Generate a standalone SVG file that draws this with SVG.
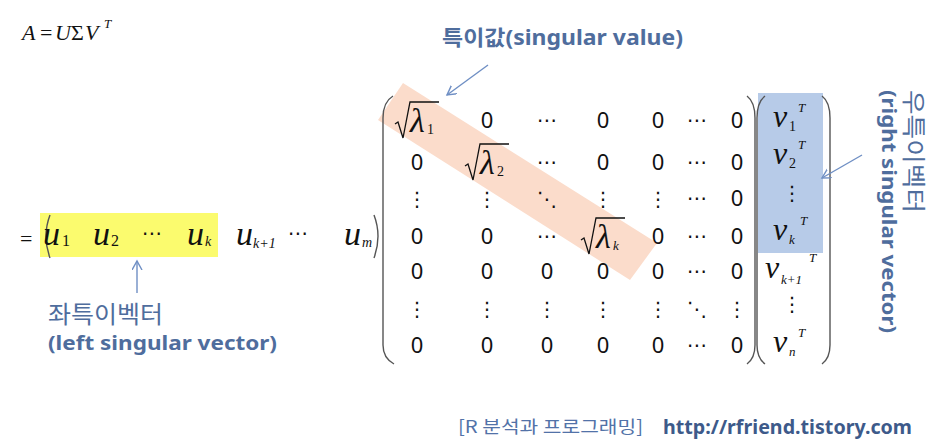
<svg xmlns="http://www.w3.org/2000/svg" width="939" height="448" viewBox="0 0 939 448">
<style>
.m{font-family:"Liberation Serif",serif;font-style:italic;fill:#111}
.n{font-family:"Liberation Serif",serif;fill:#111}
.z{font-family:"Noto Sans","Liberation Sans",sans-serif;font-size:22px;fill:#111;text-anchor:middle}
.d{font-family:"DejaVu Sans",sans-serif;font-size:20px;fill:#111;text-anchor:middle}
.br{fill:none;stroke:#555;stroke-width:1.4}
.rad{fill:none;stroke:#111;stroke-width:1.3}
.lbl{font-family:"Noto Sans","Noto Sans CJK KR",sans-serif;fill:#4f6d9d}
.kr{font-family:"Noto Sans CJK KR",sans-serif;fill:#4f6d9d}
.arr{fill:none;stroke:#6f8fc4;stroke-width:1.4}
</style>
<defs>
<marker id="ah" markerUnits="userSpaceOnUse" markerWidth="12" markerHeight="12" refX="9" refY="5" orient="auto">
<path d="M0,0 L9,5 L0,10" fill="none" stroke="#6f8fc4" stroke-width="1.4"/>
</marker>
<path id="radp" d="M0,22 L3,20 L8,36 L15,0 L44,0"/>
</defs>
<rect width="939" height="448" fill="#fff"/>

<g id="eq-top">
<text class="m" font-size="22" x="22" y="40">A</text>
<text class="n" font-size="22" x="40" y="40">=</text>
<text class="m" font-size="22" x="55" y="40">U</text>
<text class="n" font-size="22" x="71" y="40">Σ</text>
<text class="m" font-size="22" x="85" y="40">V</text>
<text class="m" font-size="13" x="104" y="28">T</text>
</g>

<g id="u-matrix">
<rect x="40" y="213" width="178" height="44" fill="#fbfb6e"/>
<text class="n" font-size="22" x="20" y="246">=</text>
<path class="br" d="M50,215 Q42,236 50,258"/>
<text class="m" font-size="34" x="43" y="245">u</text><text class="n" font-size="16" x="62" y="246">1</text>
<text class="m" font-size="34" x="93" y="245">u</text><text class="n" font-size="16" x="111" y="246">2</text>
<text class="d" font-size="18" x="152" y="240">⋯</text>
<text class="m" font-size="34" x="187" y="245">u</text><text class="m" font-size="14" x="205" y="246">k</text>
<text class="m" font-size="34" x="236" y="245">u</text><text class="m" font-size="14" x="253" y="248">k<tspan class="n">+1</tspan></text>
<text class="d" font-size="18" x="298" y="240">⋯</text>
<text class="m" font-size="34" x="344" y="245">u</text><text class="m" font-size="14" x="362" y="247">m</text>
<path class="br" d="M374,215 Q382,236 374,258"/>
</g>

<g id="sigma-matrix">
<polygon points="403,83 657,243 630,280 378,120" fill="#fbdccb"/>
<path class="br" d="M393,96 Q383,102 383,118 L383,345 Q383,358 394,364"/>
<path class="br" d="M747,96 Q755,102 755,118 L755,345 Q755,358 747,364"/>
<!-- row 1 -->
<use href="#radp" class="rad" transform="translate(395,102)"/>
<text class="m" font-size="34" x="410" y="132">λ</text><text class="n" font-size="14" x="427" y="134">1</text>
<text class="z" x="487" y="128">0</text>
<text class="d" x="547" y="127">⋯</text>
<text class="z" x="603" y="128">0</text>
<text class="z" x="658" y="128">0</text>
<text class="d" x="697" y="127">⋯</text>
<text class="z" x="737" y="128">0</text>
<!-- row 2 -->
<text class="z" x="417" y="170">0</text>
<use href="#radp" class="rad" transform="translate(465,144)"/>
<text class="m" font-size="34" x="480" y="174">λ</text><text class="n" font-size="14" x="497" y="176">2</text>
<text class="d" x="547" y="169">⋯</text>
<text class="z" x="603" y="170">0</text>
<text class="z" x="658" y="170">0</text>
<text class="d" x="697" y="169">⋯</text>
<text class="z" x="737" y="170">0</text>
<!-- row 3 -->
<text class="d" x="417" y="206">⋮</text>
<text class="d" x="487" y="206">⋮</text>
<text class="d" x="547" y="206">⋱</text>
<text class="d" x="603" y="206">⋮</text>
<text class="d" x="658" y="206">⋮</text>
<text class="d" x="697" y="205">⋯</text>
<text class="z" x="737" y="206">0</text>
<!-- row 4 -->
<text class="z" x="417" y="244">0</text>
<text class="z" x="487" y="244">0</text>
<text class="d" x="547" y="243">⋯</text>
<use href="#radp" class="rad" transform="translate(581,218)"/>
<text class="m" font-size="34" x="596" y="248">λ</text><text class="m" font-size="13" x="613" y="250">k</text>
<text class="z" x="658" y="244">0</text>
<text class="d" x="697" y="243">⋯</text>
<text class="z" x="737" y="244">0</text>
<!-- row 5 -->
<text class="z" x="417" y="279">0</text>
<text class="z" x="487" y="279">0</text>
<text class="z" x="547" y="279">0</text>
<text class="z" x="603" y="279">0</text>
<text class="z" x="658" y="279">0</text>
<text class="d" x="697" y="278">⋯</text>
<text class="z" x="737" y="279">0</text>
<!-- row 6 -->
<text class="d" x="417" y="316">⋮</text>
<text class="d" x="487" y="316">⋮</text>
<text class="d" x="547" y="316">⋮</text>
<text class="d" x="603" y="316">⋮</text>
<text class="d" x="658" y="316">⋮</text>
<text class="d" x="697" y="316">⋱</text>
<text class="d" x="737" y="316">⋮</text>
<!-- row 7 -->
<text class="z" x="417" y="353">0</text>
<text class="z" x="487" y="353">0</text>
<text class="z" x="547" y="353">0</text>
<text class="z" x="603" y="353">0</text>
<text class="z" x="658" y="353">0</text>
<text class="d" x="697" y="352">⋯</text>
<text class="z" x="737" y="353">0</text>
</g>

<g id="v-matrix">
<rect x="758" y="93" width="65" height="160" fill="#b7cbe8"/>
<path class="br" d="M765,96 Q757,102 757,118 L757,345 Q757,358 765,364"/>
<path class="br" d="M822,96 Q830,102 830,118 L830,345 Q830,358 822,364"/>
<text class="m" font-size="32" x="773" y="127">v</text><text class="n" font-size="14" x="789" y="131">1</text><text class="m" font-size="13" x="798" y="112">T</text>
<text class="m" font-size="32" x="773" y="164">v</text><text class="n" font-size="14" x="789" y="168">2</text><text class="m" font-size="13" x="798" y="149">T</text>
<text class="d" font-size="18" x="792" y="200">⋮</text>
<text class="m" font-size="32" x="773" y="240">v</text><text class="m" font-size="13" x="789" y="244">k</text><text class="m" font-size="13" x="800" y="225">T</text>
<text class="m" font-size="32" x="765" y="278">v</text><text class="m" font-size="13" x="781" y="284">k<tspan class="n">+1</tspan></text><text class="m" font-size="13" x="809" y="262">T</text>
<text class="d" font-size="18" x="792" y="311">⋮</text>
<text class="m" font-size="32" x="773" y="352">v</text><text class="m" font-size="13" x="789" y="356">n</text><text class="m" font-size="13" x="798" y="337">T</text>
</g>

<g id="label-sv">
<text x="442" y="45" textLength="241" lengthAdjust="spacingAndGlyphs"><tspan class="kr" font-size="21" font-weight="bold">특이값</tspan><tspan class="lbl" font-size="21" font-weight="bold">(singular value)</tspan></text>
</g>

<g id="label-left">
<text class="kr" font-size="24" x="48" y="323" textLength="115" lengthAdjust="spacingAndGlyphs">좌특이벡터</text>
<text class="lbl" font-size="20" font-weight="bold" x="48" y="350" textLength="229" lengthAdjust="spacingAndGlyphs">(left singular vector)</text>
</g>

<g id="label-right">
<text class="kr" font-size="24" transform="translate(905,90) rotate(90)" textLength="123" lengthAdjust="spacingAndGlyphs">우특이벡터</text>
<text class="lbl" font-size="20" font-weight="bold" transform="translate(882,90) rotate(90)" textLength="243" lengthAdjust="spacingAndGlyphs">(right singular vector)</text>
</g>

<g id="connectors">
<path class="arr" d="M488,65 L447,95" marker-end="url(#ah)"/>
<path class="arr" d="M137,293 L137,261" marker-end="url(#ah)"/>
<path class="arr" d="M862,155 L822,178" marker-end="url(#ah)"/>
</g>

<g id="footer">
<text class="kr" font-size="17" x="458" y="433" style="fill:#5272a8" textLength="185" lengthAdjust="spacingAndGlyphs">[R 분석과 프로그래밍]</text>
<text class="lbl" font-size="19" font-weight="bold" x="663" y="434" style="fill:#3d5a8a" textLength="249" lengthAdjust="spacingAndGlyphs">http://rfriend.tistory.com</text>
</g>
</svg>
